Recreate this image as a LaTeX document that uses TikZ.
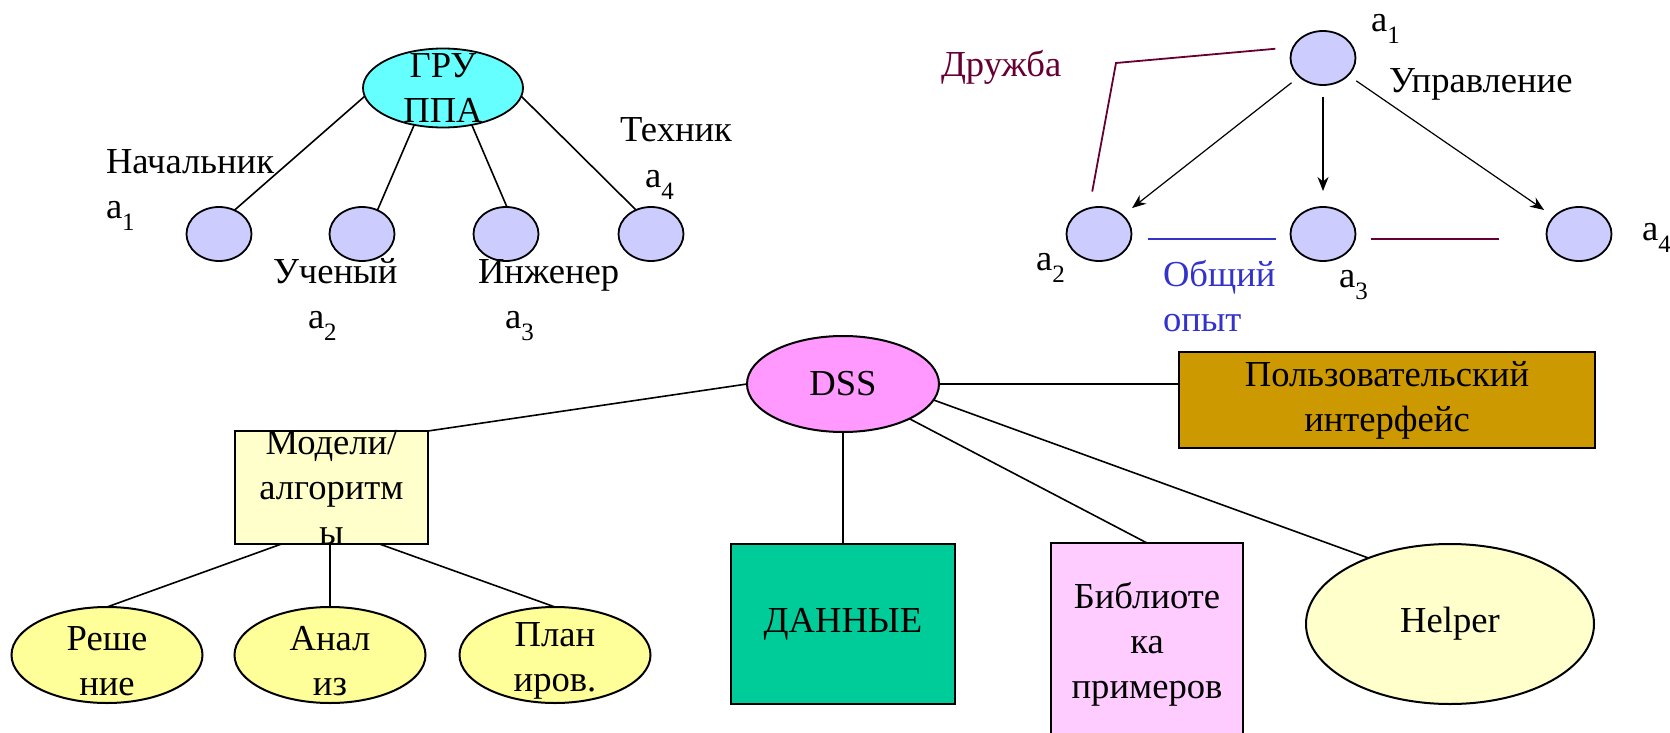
\documentclass[tikz,border=0pt]{standalone}
\usepackage{fontspec}
\setmainfont{Liberation Serif}
\usetikzlibrary{shapes.geometric,arrows.meta}

\definecolor{gruC}{HTML}{66FFFF}
\definecolor{agentC}{HTML}{CCCCFF}
\definecolor{dssC}{HTML}{FF99FF}
\definecolor{modC}{HTML}{FFFFCC}
\definecolor{leafC}{HTML}{FFFF99}
\definecolor{dataC}{HTML}{00CC99}
\definecolor{libC}{HTML}{FFCCFF}
\definecolor{uiC}{HTML}{CC9900}
\definecolor{friendC}{HTML}{660033}
\definecolor{expC}{HTML}{3333CC}

\newcommand{\ai}[1]{a\raisebox{-6pt}{\fontsize{12.5}{12.5}\selectfont #1}}

\begin{document}
\begin{tikzpicture}[x=0.5pt,y=-0.5pt,
  every node/.style={font=\fontsize{18.3}{22.5}\selectfont, inner sep=0pt, outer sep=0pt},
  agent/.style={ellipse, draw, line width=0.9pt, fill=agentC, minimum width=32.5pt, minimum height=27pt},
  lbl/.style={anchor=base west},
  link/.style={line width=0.8pt},
  ctrl/.style={-{Stealth[length=7pt,width=5.5pt]}, line width=0.6pt, shorten <=5pt, shorten >=6pt},
  leaf/.style={ellipse, draw, line width=1pt, fill=leafC, minimum width=95.5pt, minimum height=48pt,
    label={[align=center, yshift=-3pt]center:#1}},
  box/.style={rectangle, draw, line width=1.3pt, align=center}]
\useasboundingbox (0,0) rectangle (1670,733);

\node[ellipse, draw, line width=0.9pt, fill=gruC, minimum width=80pt, minimum height=39.5pt,
  label={[align=center]center:{ГРУ\\ППА}}] (gru) at (443,88) {};
\node[agent] (m1) at (219,234) {};
\node[agent] (m2) at (362,234) {};
\node[agent] (m3) at (506,234) {};
\node[agent] (m4) at (651,234) {};
\draw[link] (gru.186) -- (m1.57);
\draw[link] (gru.232) -- (m2.57);
\draw[link] (gru.308) -- (m3.88);
\draw[link] (gru.354) -- (m4.122);
\node[lbl] (boss) at (106,173) {Начальник};
\node[lbl] (boss-i) at (106,218) {\ai{1}};
\node[lbl] (sci) at (273,283) {Ученый};
\node[lbl] (sci-i) at (308,328) {\ai{2}};
\node[lbl] (eng) at (478,283) {Инженер};
\node[lbl] (eng-i) at (505,328) {\ai{3}};
\node[lbl] (tech) at (620,141) {Техник};
\node[lbl] (tech-i) at (645,187) {\ai{4}};

\node[agent] (a1) at (1323,58) {};
\node[agent] (a2) at (1099,234) {};
\node[agent] (a3) at (1323,234) {};
\node[agent] (a4) at (1579,234) {};
\draw[ctrl] (a1) -- (a2);
\draw[ctrl, shorten <=6pt, shorten >=8pt] (a1) -- (a3);
\draw[ctrl] (a1) -- (a4);
\coordinate (bend) at (1116,63);
\draw[friendC, line width=0.9pt, shorten <=9pt, shorten >=8.5pt] (a1.160) -- (bend) -- (a2.111);
\draw[expC, line width=1.1pt, shorten <=8pt, shorten >=7.5pt] ([yshift=-2.5pt]a2.east) -- ([yshift=-2.5pt]a3.west);
\draw[friendC, line width=1.1pt, shorten <=7.5pt, shorten >=24pt] ([yshift=-2.5pt]a3.east) -- ([yshift=-2.5pt]a4.west);
\node[lbl, friendC] (friend) at (941,77) {Дружба};
\node[lbl] (a1-i) at (1371,32) {\ai{1}};
\node[lbl] (mgmt) at (1389,93) {Управление};
\node[lbl] (a2-i) at (1036,270) {\ai{2}};
\node[lbl] (a3-i) at (1339,287) {\ai{3}};
\node[lbl] (a4-i) at (1642,240) {\ai{4}};
\node[lbl, expC, align=left] (exp) at (1163,331) {Общий\\опыт};

\node[ellipse, draw, line width=1pt, fill=dssC, minimum width=96pt, minimum height=48pt] (dss) at (843,384) {DSS};
\node[box, fill=modC, minimum width=96.5pt, minimum height=56.5pt,
  label={[align=center]center:{Модели/\\алгоритм\\ы}}] (models) at (331.5,487.5) {};
\node[box, fill=uiC, minimum width=208pt, minimum height=48pt] (ui) at (1387,400) {Пользовательский\\интерфейс};
\node[box, fill=dataC, minimum width=112pt, minimum height=80pt] (data) at (843,624) {ДАННЫЕ};
\node[box, fill=libC, line width=1pt, minimum width=96pt, minimum height=101pt] (lib) at (1147,644) {Библиоте\\ка\\примеров};
\node[ellipse, draw, line width=1pt, fill=modC, minimum width=144pt, minimum height=80pt] (helper) at (1450,624) {Helper};
\node[leaf={Реше\\ние}] (resh) at (107,655) {};
\node[leaf={Анал\\из}] (anal) at (330,655) {};
\node[leaf={План\\иров.}] (plan) at (555,655) {};

\draw[link] (dss.west) -- (models.north east);
\draw[link] (dss.south) -- (data.north);
\draw[link] (dss.east) -- (dss.east -| ui.west);
\draw[link] (dss) -- (lib.north);
\draw[link] (dss.350) -- (helper.141);
\draw[link] ([xshift=-25pt]models.south) -- (resh.north);
\draw[link] (anal.north |- models.south) -- (anal.north);
\draw[link] ([xshift=24pt]models.south) -- (plan.north);
\end{tikzpicture}
\end{document}
